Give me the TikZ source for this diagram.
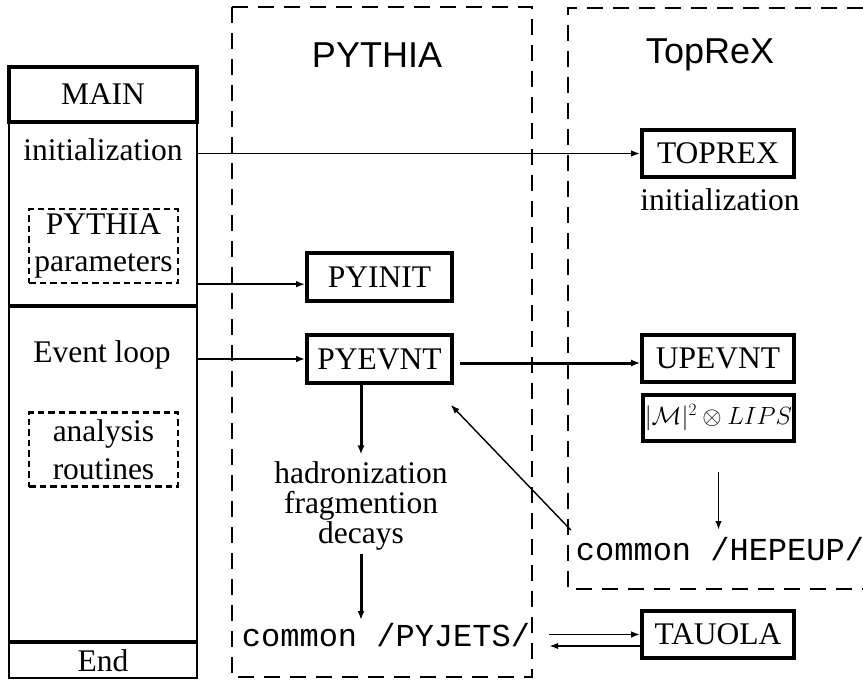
\documentclass[tikz,border=0pt]{standalone}
\usepackage{fontspec}
\setmainfont{Liberation Serif}
\setsansfont{Liberation Sans}
\setmonofont{Liberation Mono}
\usetikzlibrary{arrows.meta,calc}
\begin{document}
\begin{tikzpicture}[x=1pt,y=-1pt,
  every node/.style={font=\fontsize{31.5}{30}\selectfont, inner sep=0pt},
  box/.style={draw, line width=3.6pt, minimum width=145pt, minimum height=48pt},
  sec/.style={draw, line width=2.6pt, minimum width=188pt},
  dbox/.style={draw, dash pattern=on 6.5pt off 4pt, line width=2.4pt, minimum width=149pt, minimum height=74pt, align=center, font=\fontsize{31.5}{37.5}\selectfont},
  region/.style={line width=2.6pt, dash pattern=on 16pt off 10pt},
  arr/.style={line width=1.8pt, -{Latex[length=9pt,width=6.5pt]}},
  tarr/.style={line width=3pt, -{Latex[length=9pt,width=7pt]}},
  mono/.style={font=\ttfamily\fontsize{32}{32}\selectfont},
  title/.style={font=\sffamily\fontsize{36}{36}\selectfont}]
\useasboundingbox (0,0) rectangle (863,680);

% regions
\draw[region] (232,7) rectangle (532,677);
\draw[region] (863,8) -- (568,8) -- (568,589) -- (863,589);
\node[title] (pytitle) at (377,55) {PYTHIA};
\node[title] (toptitle) at (710,55) {TopReX};

% MAIN column
\node[sec, minimum height=185pt] (initsec) at (103,214.5) {};
\node[sec, minimum height=336pt] (loopsec) at (103,475) {};
\node[sec, minimum height=35pt] (endsec) at (103,660.5) {End};
\draw[line width=3.4pt] (loopsec.north west) -- (loopsec.north east);
\draw[line width=3.4pt] (endsec.north west) -- (endsec.north east);
\node[draw, line width=3.6pt, minimum width=188pt, minimum height=55pt] (main) at (103,94.5) {MAIN};
\node (initxt) at (103,150) {initialization};
\node[dbox] (pyparams) at (103.5,246) {PYTHIA\\parameters};
\node (evtxt) at (102,355) {Event loop};
\node[dbox] (analysis) at (103.5,449.5) {analysis\\routines};

% PYTHIA
\node[box] (pyinit) at (379.5,277) {PYINIT};
\node[box] (pyevnt) at (379.5,359) {PYEVNT};
\node[align=center] (hadron) at (361,506) {hadronization\\fragmention\\decays};
\node[mono] (pyjets) at (386,635) {common /PYJETS/};

% TopReX
\node[box, minimum width=152pt, minimum height=47pt] (toprex) at (718,153.5) {TOPREX};
\node (topinit) at (720,200) {initialization};
\node[box, minimum width=152pt, minimum height=47pt] (upevnt) at (718,358.5) {UPEVNT};
\node[box, line width=3.2pt, minimum width=151pt, minimum height=46pt, font=\fontsize{25}{25}\selectfont] (lips) at (718.5,418) {$|\mathcal{M}|^2\otimes LIPS$};
\node[mono] (hepeup) at (720,549) {common /HEPEUP/};
\node[box, minimum width=152pt, minimum height=47pt] (tauola) at (718,634.5) {TAUOLA};

% connectors
\draw[arr] (initsec.east |- toprex.west) -- (toprex.west);
\draw[arr] (initsec.east |- pyparams.south) -- (pyinit.west |- pyparams.south);
\draw[arr] (loopsec.east |- pyevnt.west) -- (pyevnt.west);
\coordinate (pe) at ($(pyevnt.east)+(6,4)$);
\draw[tarr] (pe) -- (upevnt.west |- pe);
\draw[tarr] (pyevnt.south -| hadron) -- ([yshift=7pt]hadron.north);
\coordinate (pjtop) at ($(pyjets.center)+(0,-15)$);
\draw[tarr] ([yshift=-3pt]hadron.south) -- (hadron.south |- pjtop);
\coordinate (heptop) at ($(hepeup.center)+(0,-19)$);
\draw[arr] ([yshift=-29pt]lips.south) -- (lips.south |- heptop);
\coordinate (diagS) at ($(hepeup.west)+(-5,-19)$);
\coordinate (diagE) at ($(pyevnt.south east)+(-3,20)$);
\draw[arr, line width=1.4pt] (diagS) -- (diagE);
\coordinate (pjr) at ($(pyjets.east)+(19,0)$);
\draw[arr] (pjr |- tauola.west) -- (tauola.west);
\coordinate (tw2) at ($(tauola.west)+(0,11.5)$);
\draw[arr] (tw2) -- (pjr |- tw2);
\end{tikzpicture}
\end{document}
